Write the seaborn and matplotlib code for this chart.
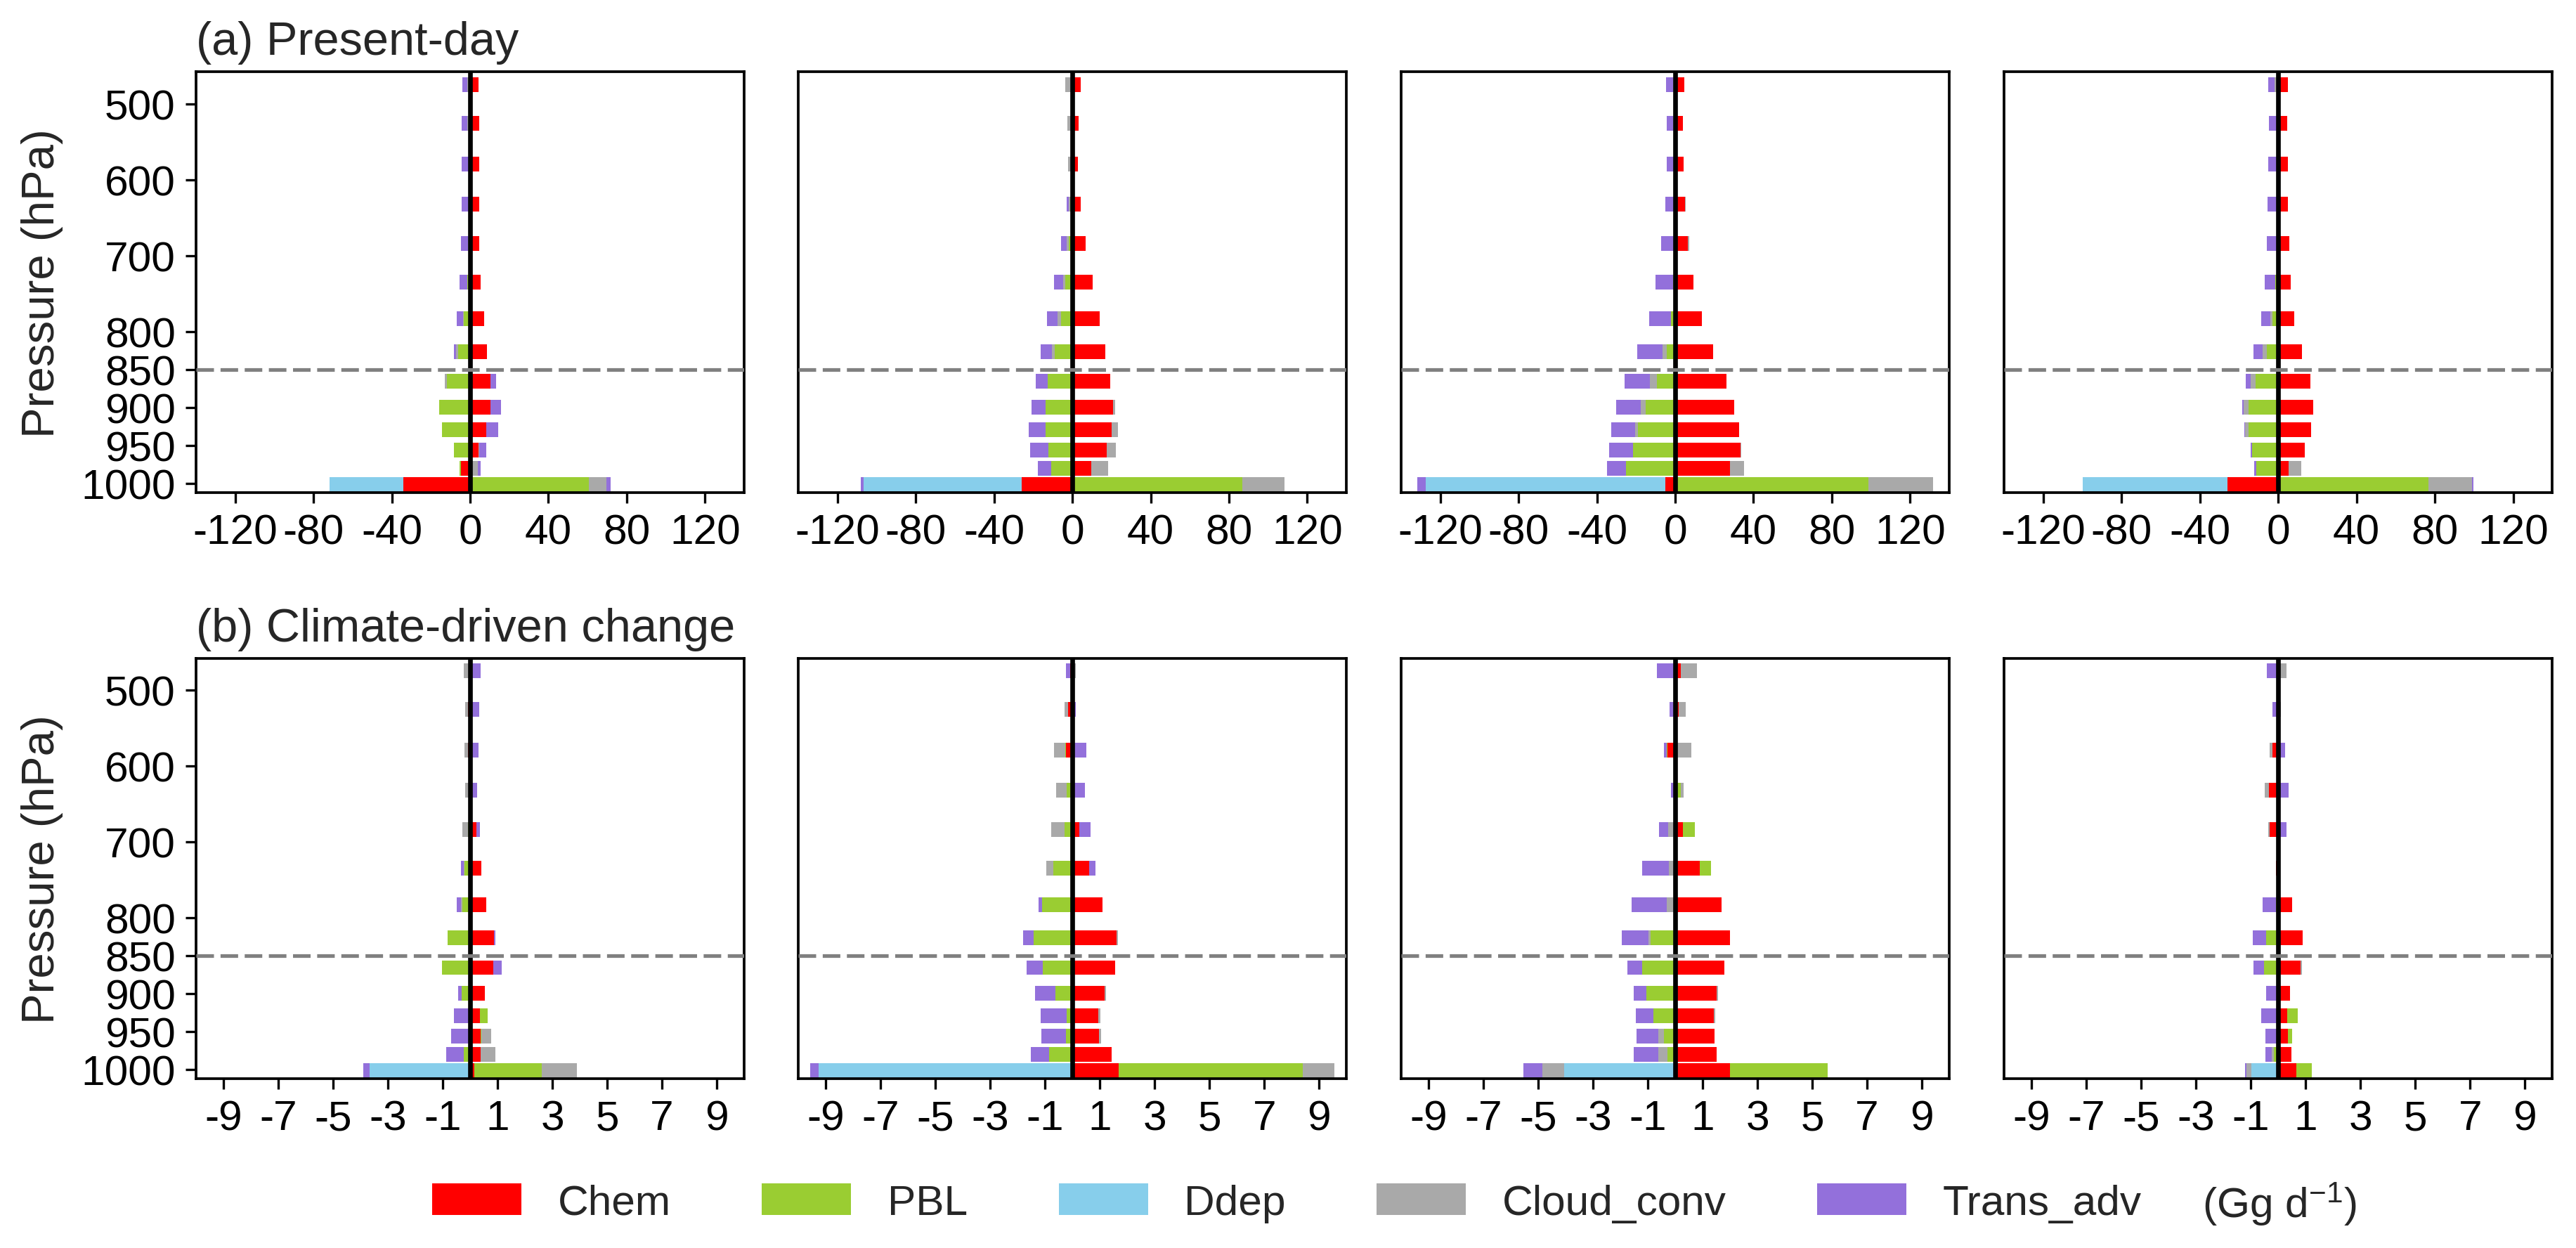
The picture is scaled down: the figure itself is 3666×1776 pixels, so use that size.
import numpy as np
import matplotlib
matplotlib.use("Agg")
import matplotlib.pyplot as plt
from matplotlib.patches import Patch
import seaborn as sns

# ---------------- data ----------------
LEVELS = [475, 526, 579, 632, 684, 735, 783, 827, 866, 900, 929.5, 956, 980.5, 1002]
COMPONENTS = ["Chem", "PBL", "Ddep", "Cloud_conv", "Trans_adv"]
COLORS = ["#FF0000", "#9ACD32", "#87CEEB", "#A9A9A9", "#9370DB"]
ROW_TITLES = ["(a) Present-day", "(b) Climate-driven change"]
YTICKS = [500, 600, 700, 800, 850, 900, 950, 1000]
XTICKS_PD = [-120, -80, -40, 0, 40, 80, 120]
XTICKS_CC = [-9, -7, -5, -3, -1, 1, 3, 5, 7, 9]

# Present-day, one list per panel (levels from top to bottom)
CHEM_PD = [
    [4.2, 4.6, 4.8, 4.8, 4.8, 5.5, 7.0, 8.6, 10.3, 10.3, 8.4, 4.2, -4.6, -34.1],
    [4.1, 3.3, 2.7, 4.1, 6.6, 10.3, 14.0, 16.9, 19.4, 20.6, 20.2, 17.7, 9.5, -25.8],
    [4.6, 4.0, 4.2, 5.0, 6.6, 9.5, 13.6, 19.4, 26.1, 30.1, 32.5, 33.2, 27.9, -5.1],
    [4.8, 4.6, 4.8, 5.0, 5.5, 6.4, 8.3, 12.1, 16.3, 18.0, 16.9, 13.6, 5.3, -25.9],
]
PBL_PD = [
    [0, 0, 0, 0, 0, -1.3, -3.3, -6.2, -11.9, -15.8, -14.3, -8.4, -0.9, 60.7],
    [0, 0, 0, -1.2, -2.0, -3.5, -5.8, -9.1, -12.6, -13.8, -13.8, -12.4, -10.7, 86.8],
    [0, 0, 0, -0.6, -0.5, -0.9, -2.0, -4.2, -9.5, -14.9, -18.9, -21.7, -25.0, 98.7],
    [0, 0, 0, 0, 0, -1.5, -2.8, -5.9, -11.7, -15.2, -15.2, -13.4, -11.2, 76.9],
]
DDEP_PD = [
    [0, 0, 0, 0, 0, 0, 0, 0, 0, 0, 0, 0, 0, -37.6],
    [0, 0, 0, 0, 0, 0, 0, 0, 0, 0, 0, 0, 0, -80.8],
    [0, 0, 0, 0, 0, 0, 0, 0, 0, 0, 0, 0, 0, -122.4],
    [0, 0, 0, 0, 0, 0, 0, 0, 0, 0, 0, 0, 0, -74.1],
]
CLOUD_PD = [
    [-1.5, -1.3, -0.9, -0.9, -1.1, 0, -0.2, -1.1, -1.1, 0, 0, 0.5, 4.0, 9.0],
    [-3.5, -2.5, -2.1, -0.6, -1.0, -1.4, -1.9, -1.2, 0, 1.2, 2.9, 4.5, 8.9, 21.6],
    [-1.1, -0.9, -0.7, 0.5, 0.5, 0, 0, -2.4, -3.5, -2.8, -1.5, 0.5, 7.2, 33.2],
    [-1.7, -0.9, -0.9, -0.9, -0.9, 0, -1.1, -2.2, -2.2, -2.6, -1.8, 0, 6.4, 22.0],
]
TRANS_PD = [
    [-2.5, -3.1, -3.5, -3.5, -3.5, -4.2, -3.3, -1.1, 2.8, 5.5, 5.9, 3.7, 1.5, 2.0],
    [-0.3, -0.2, -0.2, -1.0, -2.9, -4.5, -5.4, -5.8, -6.0, -7.2, -8.5, -9.3, -7.0, -1.4],
    [-3.5, -3.3, -3.7, -4.6, -6.8, -9.0, -11.4, -12.8, -12.8, -12.3, -12.1, -12.1, -9.9, -4.2],
    [-3.5, -3.9, -4.2, -4.4, -5.0, -5.3, -4.8, -4.4, -2.8, -0.6, -0.4, -0.7, -0.9, 0.9],
]

# Climate-driven change, one list per panel
CHEM_CC = [
    [-0.05, -0.09, -0.08, -0.04, 0.24, 0.41, 0.60, 0.86, 0.84, 0.54, 0.37, 0.39, 0.39, 0.16],
    [-0.08, -0.16, -0.24, -0.05, 0.25, 0.62, 1.11, 1.60, 1.55, 1.18, 0.94, 0.97, 1.44, 1.70],
    [0.20, 0.12, -0.28, -0.05, 0.29, 0.89, 1.69, 1.99, 1.80, 1.51, 1.40, 1.44, 1.52, 1.99],
    [-0.03, -0.05, -0.21, -0.35, -0.31, -0.09, 0.51, 0.88, 0.81, 0.42, 0.33, 0.35, 0.48, 0.67],
]
PBL_CC = [
    [0, 0, 0, 0, -0.08, -0.21, -0.29, -0.81, -1.03, -0.31, 0.26, 0.03, -0.24, 2.45],
    [0, 0, -0.03, -0.16, -0.29, -0.69, -1.10, -1.42, -1.07, -0.62, -0.22, -0.24, -0.85, 6.70],
    [0, 0, -0.03, 0.20, 0.43, 0.43, -0.05, -0.89, -1.20, -1.06, -0.80, -0.41, -0.28, 3.57],
    [0, 0, 0, 0, 0, 0.05, -0.08, -0.45, -0.51, 0, 0.39, 0.17, -0.16, 0.56],
]
DDEP_CC = [
    [0, 0, 0, 0, 0, 0, 0, 0, 0, 0, 0, 0, 0, -3.67],
    [0, 0, 0, 0, 0, 0, 0, 0, 0, 0, 0, 0, 0, -9.27],
    [0, 0, 0, 0, 0, 0, 0, 0, 0, 0, 0, 0, 0, -4.04],
    [0, 0, 0, 0, 0, 0, 0, 0, 0, 0, 0, 0, 0, -0.98],
]
CLOUD_CC = [
    [-0.17, -0.10, -0.12, -0.13, -0.21, -0.03, -0.04, 0, 0, 0, 0, 0.34, 0.52, 1.28],
    [0.12, -0.13, -0.39, -0.39, -0.49, -0.25, 0, 0.05, 0, 0.05, 0.09, 0.07, 0, 1.17],
    [0.60, 0.26, 0.58, 0.12, -0.25, -0.24, -0.25, -0.09, 0, 0.05, 0.05, -0.21, -0.34, -0.80],
    [0.29, 0.09, -0.10, -0.13, -0.05, 0, 0, 0, 0.05, 0, 0, 0, -0.07, -0.18],
]
TRANS_CC = [
    [0.38, 0.34, 0.31, 0.26, 0.12, -0.09, -0.17, 0.05, 0.31, -0.13, -0.58, -0.70, -0.63, -0.22],
    [-0.16, 0.13, 0.52, 0.47, 0.42, 0.21, -0.13, -0.37, -0.60, -0.73, -0.93, -0.90, -0.66, -0.30],
    [-0.67, -0.20, -0.10, -0.10, -0.33, -0.97, -1.30, -0.96, -0.55, -0.46, -0.63, -0.79, -0.88, -0.71],
    [-0.38, -0.16, 0.24, 0.39, 0.30, 0, -0.50, -0.48, -0.38, -0.43, -0.62, -0.46, -0.24, -0.05],
]

ROWS = [
    (CHEM_PD, PBL_PD, DDEP_PD, CLOUD_PD, TRANS_PD),
    (CHEM_CC, PBL_CC, DDEP_CC, CLOUD_CC, TRANS_CC),
]

# ---------------- style ----------------
sns.set_theme(style="ticks")
plt.rcParams["font.family"] = ["Liberation Sans", "DejaVu Sans"]
plt.rcParams["axes.unicode_minus"] = False
plt.rcParams["mathtext.default"] = "regular"
FS = 14.5

fig = plt.figure(figsize=(3666 / 300, 1777 / 300), dpi=300)

lefts = [0.0761, 0.3099, 0.5439, 0.7780]
width = 0.2128
bottoms = [0.6050, 0.1356]
height = 0.3368

levels = np.array(LEVELS, dtype=float)
min_gap = np.min(np.diff(np.sort(levels)))
bar_rel_width = 19.4 / min_gap

for r, comps in enumerate(ROWS):
    for c in range(4):
        ax = fig.add_axes([lefts[c], bottoms[r], width, height])
        vals = np.array([np.array(comp[c], dtype=float) for comp in comps])
        cum_pos = np.cumsum(np.clip(vals, 0, None), axis=0)
        cum_neg = np.cumsum(np.clip(vals, None, 0), axis=0)
        for k in reversed(range(len(COMPONENTS))):
            for cum in (cum_pos, cum_neg):
                sns.barplot(x=cum[k], y=levels, orient="y", native_scale=True,
                            color=COLORS[k], saturation=1, errorbar=None,
                            width=bar_rel_width, linewidth=0, edgecolor="none",
                            ax=ax)
        ax.axvline(0, color="black", lw=1.6, zorder=6)
        ax.axhline(850, color="#808080", lw=1.25, ls=(0, (4.8, 1.8)), zorder=6)
        ax.set_ylim(1012.4, 458)
        if r == 0:
            ax.set_xlim(-140, 140)
            ax.set_xticks(XTICKS_PD)
        else:
            ax.set_xlim(-10, 10)
            ax.set_xticks(XTICKS_CC)
        ax.set_xlabel("")
        ax.tick_params(axis="both", direction="out", length=3.5, width=0.8,
                       labelsize=FS, colors="black", pad=3.5)
        if c == 0:
            ax.set_yticks(YTICKS)
            ax.set_yticklabels([str(t) for t in YTICKS])
            ax.set_ylabel("Pressure (hPa)", fontsize=15.7, labelpad=6)
            ax.set_title(ROW_TITLES[r], loc="left", fontsize=16, pad=6)
        else:
            ax.set_yticks(YTICKS)
            ax.tick_params(axis="y", left=False, labelleft=False)
            ax.set_ylabel("")
        for s in ax.spines.values():
            s.set_visible(True)
            s.set_color("black")
            s.set_linewidth(0.9)

handles = [Patch(facecolor=col, edgecolor="none", label=lab)
           for col, lab in zip(COLORS, COMPONENTS)]
fig.legend(handles=handles, loc="center left", bbox_to_anchor=(0.1678, 0.036),
           ncol=5, frameon=False, fontsize=FS, handlelength=2.1, handleheight=0.75,
           handletextpad=0.85, columnspacing=2.15, borderpad=0, borderaxespad=0)
fig.text(0.855, 0.036, "(Gg d$^{-1}$)", fontsize=FS, ha="left", va="center")

fig.savefig("out.png", dpi=300)
